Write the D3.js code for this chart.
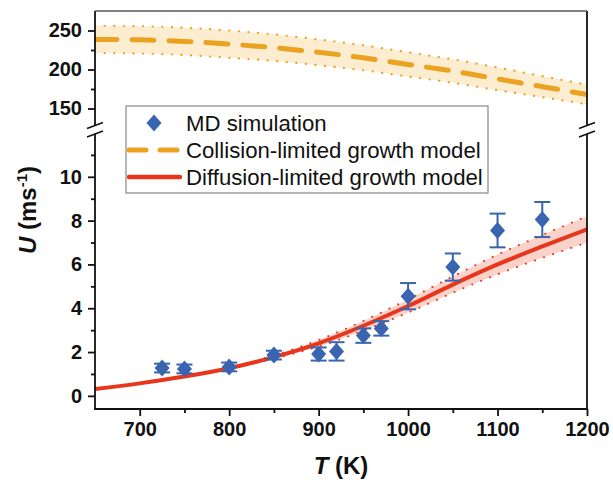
<!DOCTYPE html>
<html><head><meta charset="utf-8">
<script src="https://cdn.jsdelivr.net/npm/d3@7"></script>
<style>
html,body{margin:0;padding:0;background:#fff;}
svg{display:block;font-family:"Liberation Sans",Arial,sans-serif;}
</style></head>
<body><svg id="c" width="613" height="483"></svg>
<script>
// ---- data ----
const mdT   = [725, 750, 800, 850, 900, 920, 950, 970, 1000, 1050, 1100, 1150];
const mdU   = [1.27, 1.23, 1.32, 1.86, 1.91, 2.03, 2.75, 3.08, 4.55, 5.88, 7.55, 8.05];
const mdErr = [0.2, 0.2, 0.2, 0.2, 0.3, 0.42, 0.33, 0.33, 0.6, 0.62, 0.77, 0.8];

const modelT = [650, 700, 750, 800, 850, 900, 950, 1000, 1050, 1100, 1150, 1200];
const diffU     = [0.31, 0.57, 0.88, 1.26, 1.77, 2.4, 3.2, 4.1, 5.08, 6.0, 6.82, 7.6];
const diffUpper = [0.31, 0.57, 0.89, 1.29, 1.84, 2.55, 3.42, 4.4, 5.45, 6.45, 7.34, 8.2];
const diffLower = [0.31, 0.57, 0.87, 1.23, 1.7, 2.25, 2.98, 3.8, 4.71, 5.55, 6.3, 7.0];

const collU     = [238.5, 238, 236, 232.5, 228, 222, 215, 206.5, 198, 188, 178, 168];
const collUpper = [256, 255.5, 253.5, 250, 245, 238.5, 231, 222, 213, 202.5, 191.5, 180.5];
const collLower = [221, 220.5, 218.5, 215, 211, 205.5, 199, 191, 183, 173.5, 164.5, 155.5];

const xTicks = [700, 800, 900, 1000, 1100, 1200];
const xMinor = [750, 850, 950, 1050, 1150];
const yLowTicks = [0, 2, 4, 6, 8, 10];
const yLowMinor = [1, 3, 5, 7, 9, 11];
const yUpTicks = [150, 200, 250];
const yUpMinor = [175, 225];

const legendLabels = ["MD simulation", "Collision-limited growth model", "Diffusion-limited growth model"];

// ---- layout ----
const L = 95, R = 587, T = 11, B = 409;
const upBot = 125.5, lowTop = 134;
const blue = "#3864b0", red = "#e8361c", orange = "#eaa220";

const svg = d3.select("#c");
const x = d3.scaleLinear().domain([650, 1200]).range([L, R]);
const yLow = d3.scaleLinear().domain([-0.6, 12]).range([B, 133]);
const yUp = d3.scaleLinear().domain([125, 275]).range([128, T]);

const defs = svg.append("defs");
defs.append("clipPath").attr("id", "clipUp").append("rect").attr("x", L).attr("y", T).attr("width", R - L).attr("height", upBot - T);
defs.append("clipPath").attr("id", "clipLow").append("rect").attr("x", L).attr("y", lowTop).attr("width", R - L).attr("height", B - lowTop);

// ---- upper panel ----
const gUp = svg.append("g").attr("clip-path", "url(#clipUp)");
const collRows = modelT.map((t, i) => ({t, u: collU[i], hi: collUpper[i], lo: collLower[i]}));
gUp.append("path").datum(collRows)
  .attr("d", d3.area().curve(d3.curveMonotoneX).x(d => x(d.t)).y0(d => yUp(d.lo)).y1(d => yUp(d.hi)))
  .attr("fill", "#fcecd0");
["hi", "lo"].forEach(k => {
  gUp.append("path").datum(collRows)
    .attr("d", d3.line().curve(d3.curveMonotoneX).x(d => x(d.t)).y(d => yUp(d[k])))
    .attr("fill", "none").attr("stroke", orange).attr("stroke-width", 2.2)
    .attr("stroke-dasharray", "0.1 9.5").attr("stroke-linecap", "round");
});
gUp.append("path").datum(collRows)
  .attr("d", d3.line().curve(d3.curveMonotoneX).x(d => x(d.t)).y(d => yUp(d.u)))
  .attr("fill", "none").attr("stroke", orange).attr("stroke-width", 5)
  .attr("stroke-dasharray", "22 15").attr("stroke-linecap", "round");

// ---- lower panel ----
const gLow = svg.append("g").attr("clip-path", "url(#clipLow)");
const diffRows = modelT.map((t, i) => ({t, u: diffU[i], hi: diffUpper[i], lo: diffLower[i]}));
gLow.append("path").datum(diffRows)
  .attr("d", d3.area().curve(d3.curveMonotoneX).x(d => x(d.t)).y0(d => yLow(d.lo)).y1(d => yLow(d.hi)))
  .attr("fill", "#f9d2ca");
["hi", "lo"].forEach(k => {
  gLow.append("path").datum(diffRows)
    .attr("d", d3.line().curve(d3.curveMonotoneX).x(d => x(d.t)).y(d => yLow(d[k])))
    .attr("fill", "none").attr("stroke", red).attr("stroke-width", 2)
    .attr("stroke-dasharray", "0.1 9.5").attr("stroke-linecap", "round");
});
gLow.append("path").datum(diffRows)
  .attr("d", d3.line().curve(d3.curveMonotoneX).x(d => x(d.t)).y(d => yLow(d.u)))
  .attr("fill", "none").attr("stroke", red).attr("stroke-width", 4);

const diamond = (cx, cy, w, h) => `M${cx},${cy - h}L${cx + w},${cy}L${cx},${cy + h}L${cx - w},${cy}Z`;
const md = mdT.map((t, i) => ({t, u: mdU[i], e: mdErr[i]}));
const pts = gLow.selectAll(".pt").data(md).enter().append("g");
pts.append("line").attr("x1", d => x(d.t)).attr("x2", d => x(d.t))
  .attr("y1", d => yLow(d.u - d.e)).attr("y2", d => yLow(d.u + d.e))
  .attr("stroke", blue).attr("stroke-width", 2);
[-1, 1].forEach(s => {
  pts.append("line").attr("x1", d => x(d.t) - 8).attr("x2", d => x(d.t) + 8)
    .attr("y1", d => yLow(d.u + s * d.e)).attr("y2", d => yLow(d.u + s * d.e))
    .attr("stroke", blue).attr("stroke-width", 2);
});
pts.append("path").attr("d", d => diamond(x(d.t), yLow(d.u), 7.5, 8.5)).attr("fill", blue);

// ---- axes ----
const axG = svg.append("g");
const tickFont = g => g.selectAll("text").attr("font-size", 20).attr("font-weight", "bold").attr("fill", "#111")
  .attr("font-family", '"Liberation Sans",Arial,sans-serif');

const xa = axG.append("g").attr("transform", `translate(0,${B})`)
  .call(d3.axisBottom(x).tickValues(xTicks).tickSize(7).tickSizeOuter(0).tickPadding(6).tickFormat(d3.format("d")));
xa.select(".domain").remove();
tickFont(xa);
const xm = axG.append("g").attr("transform", `translate(0,${B})`)
  .call(d3.axisBottom(x).tickValues(xMinor).tickSize(4).tickFormat(""));
xm.select(".domain").remove();

const yl = axG.append("g").attr("transform", `translate(${L},0)`)
  .call(d3.axisLeft(yLow).tickValues(yLowTicks).tickSize(7).tickPadding(6).tickFormat(d3.format("d")));
yl.select(".domain").remove(); tickFont(yl);
const ylm = axG.append("g").attr("transform", `translate(${L},0)`)
  .call(d3.axisLeft(yLow).tickValues(yLowMinor).tickSize(4).tickFormat(""));
ylm.select(".domain").remove();
const yu = axG.append("g").attr("transform", `translate(${L},0)`)
  .call(d3.axisLeft(yUp).tickValues(yUpTicks).tickSize(7).tickPadding(6).tickFormat(d3.format("d")));
yu.select(".domain").remove(); tickFont(yu);
const yum = axG.append("g").attr("transform", `translate(${L},0)`)
  .call(d3.axisLeft(yUp).tickValues(yUpMinor).tickSize(4).tickFormat(""));
yum.select(".domain").remove();
axG.selectAll(".tick line").attr("stroke", "#111").attr("stroke-width", 1.8);

// frame lines
const lineS = (x1, y1, x2, y2, c, w) => axG.append("line").attr("x1", x1).attr("y1", y1).attr("x2", x2).attr("y2", y2)
  .attr("stroke", c).attr("stroke-width", w);
lineS(L - 0.9, B, R + 0.9, B, "#111", 1.8);
lineS(L, T, L, upBot, "#111", 1.8);
lineS(L, lowTop, L, B, "#111", 1.8);
lineS(R, T, R, upBot, "#111", 1.8);
lineS(R, lowTop, R, B, "#111", 1.8);
lineS(L, T, R, T, "#555", 1.6);
// break marks
[L, R].forEach(cx => {
  [upBot, lowTop].forEach(cy => lineS(cx - 8, cy + 3, cx + 8, cy - 3, "#111", 1.6));
});

// axis titles
svg.append("text").attr("x", (L + R) / 2).attr("y", 474).attr("text-anchor", "middle")
  .attr("font-size", 24).attr("font-weight", "bold").attr("fill", "#111")
  .html('<tspan font-style="italic">T</tspan> (K)');
svg.append("text").attr("transform", `translate(36,${(T + B) / 2}) rotate(-90)`).attr("text-anchor", "middle")
  .attr("font-size", 24).attr("font-weight", "bold").attr("fill", "#111")
  .html('<tspan font-style="italic">U</tspan> (ms<tspan font-size="15" dy="-9">-1</tspan><tspan dy="9">)</tspan>');

// legend
const lg = svg.append("g");
lg.append("rect").attr("x", 126).attr("y", 106).attr("width", 362).attr("height", 87)
  .attr("fill", "#fff").attr("stroke", "#888").attr("stroke-width", 1.2);
const rowY = [123, 150, 177];
lg.append("path").attr("d", diamond(154, rowY[0], 7.5, 8.5)).attr("fill", blue);
lg.append("line").attr("x1", 129).attr("x2", 180).attr("y1", rowY[1]).attr("y2", rowY[1])
  .attr("stroke", orange).attr("stroke-width", 5).attr("stroke-dasharray", "17 14").attr("stroke-linecap", "round");
lg.append("line").attr("x1", 129).attr("x2", 180).attr("y1", rowY[2]).attr("y2", rowY[2])
  .attr("stroke", red).attr("stroke-width", 4.5).attr("stroke-linecap", "round");
lg.selectAll(".lt").data(legendLabels).enter().append("text")
  .attr("x", 186).attr("y", (d, i) => rowY[i]).attr("dy", "0.36em")
  .attr("font-size", 22.2).attr("fill", "#111").text(d => d);
</script></body></html>
